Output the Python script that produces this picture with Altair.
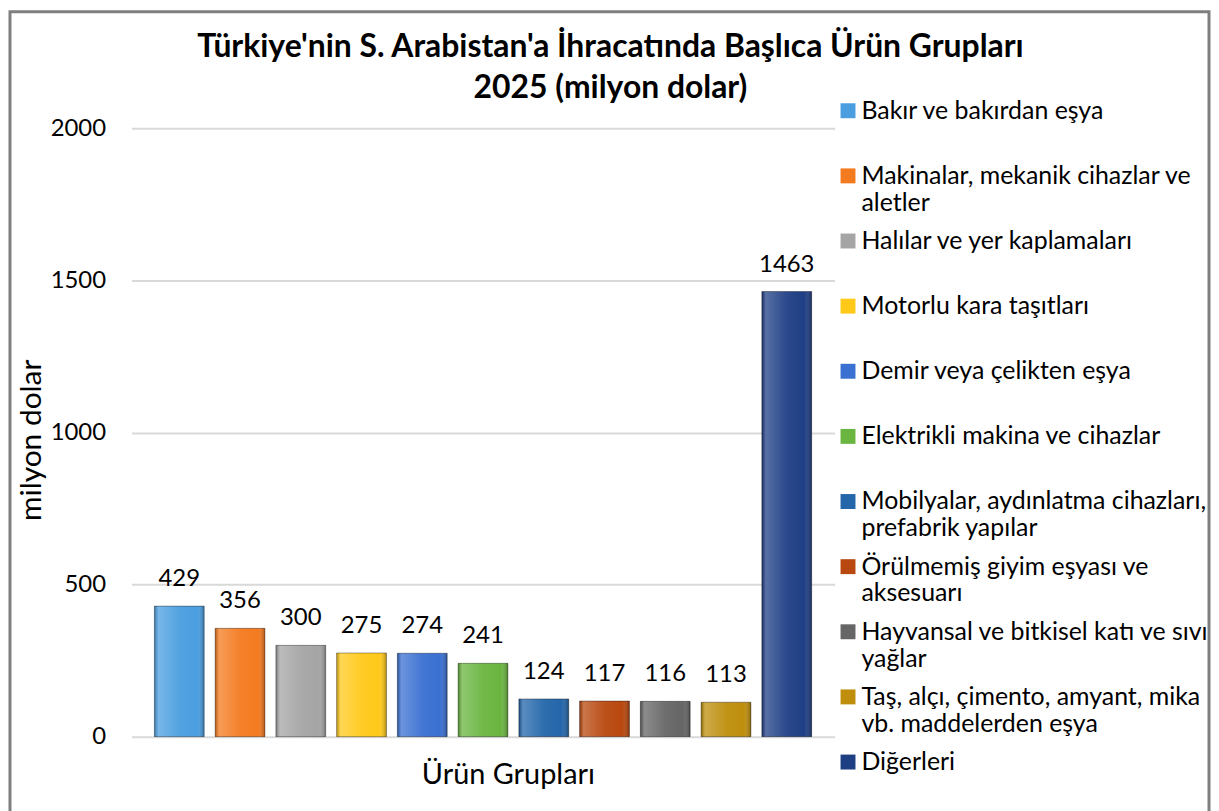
import json
import altair as alt
import pandas as pd

categories = [
    "Bakır ve bakırdan eşya",
    "Makinalar, mekanik cihazlar ve aletler",
    "Halılar ve yer kaplamaları",
    "Motorlu kara taşıtları",
    "Demir veya çelikten eşya",
    "Elektrikli makina ve cihazlar",
    "Mobilyalar, aydınlatma cihazları, prefabrik yapılar",
    "Örülmemiş giyim eşyası ve aksesuarı",
    "Hayvansal ve bitkisel katı ve sıvı yağlar",
    "Taş, alçı, çimento, amyant, mika vb. maddelerden eşya",
    "Diğerleri",
]
values = [429, 356, 300, 275, 274, 241, 124, 117, 116, 113, 1463]
legend_lines = [
    ["Bakır ve bakırdan eşya", " "],
    ["Makinalar, mekanik cihazlar ve", "aletler"],
    ["Halılar ve yer kaplamaları", " "],
    ["Motorlu kara taşıtları", " "],
    ["Demir veya çelikten eşya", " "],
    ["Elektrikli makina ve cihazlar", " "],
    ["Mobilyalar, aydınlatma cihazları,", "prefabrik yapılar"],
    ["Örülmemiş giyim eşyası ve", "aksesuarı"],
    ["Hayvansal ve bitkisel katı ve sıvı", "yağlar"],
    ["Taş, alçı, çimento, amyant, mika", "vb. maddelerden eşya"],
    ["Diğerleri", " "],
]
colors = [
    "#4A9EE0", "#F47A1F", "#A5A5A5", "#FFC91A", "#3A70D2", "#6AB540",
    "#2366AA", "#B8480F", "#666666", "#BE8E0C", "#1F3F85",
]
y_ticks = [0, 500, 1000, 1500, 2000]
title_lines = [
    "Türkiye'nin S. Arabistan'a İhracatında Başlıca Ürün Grupları",
    "2025 (milyon dolar)",
]

df = pd.DataFrame({"cat": categories, "val": values})
FONT = "Lato"

label_map = json.dumps(dict(zip(categories, legend_lines)), ensure_ascii=False)

x_enc = alt.X(
    "cat:N",
    sort=categories,
    scale=alt.Scale(paddingInner=0.18, paddingOuter=0.377),
    axis=alt.Axis(
        labels=False, ticks=False, domain=False, grid=False,
        title="Ürün Grupları", titleFont=FONT, titleFontSize=29,
        titleFontWeight="normal", titleColor="black",
        titleX=378, titleY=38, titleBaseline="middle", titleAlign="center",
    ),
)
y_enc = alt.Y(
    "val:Q",
    scale=alt.Scale(domain=[0, 2000], nice=False),
    axis=alt.Axis(
        values=y_ticks, format="d", grid=True, gridColor="#d9d9d9", gridWidth=2,
        domain=False, ticks=False, labelPadding=26, labelFont=FONT,
        labelFontSize=24, labelColor="black",
        title="milyon dolar", titleFont=FONT, titleFontSize=30,
        titleFontWeight="normal", titleColor="black",
        titleX=-100, titleY=313, titleAngle=270, titleBaseline="middle",
        titleAlign="center",
    ),
)

bars = alt.Chart(df).mark_bar().encode(
    x=x_enc,
    y=y_enc,
    color=alt.Color(
        "cat:N",
        sort=categories,
        scale=alt.Scale(domain=categories, range=colors),
        legend=alt.Legend(
            title=None, orient="none", legendX=707, legendY=-30,
            direction="vertical", padding=0,
            symbolType="square", symbolSize=225,
            symbolStrokeWidth=0, symbolOffset=0,
            labelFont=FONT, labelFontSize=25, labelColor="black",
            labelLimit=400, labelOffset=1, rowPadding=12.4,
            labelExpr=label_map + "[datum.label]",
            labelBaseline="middle",
        ),
    ),
)

bevel = alt.Gradient(
    gradient="linear", x1=0, x2=1, y1=0, y2=0,
    stops=[
        alt.GradientStop(color="rgba(0,0,0,0.25)", offset=0),
        alt.GradientStop(color="rgba(255,255,255,0.25)", offset=0.08),
        alt.GradientStop(color="rgba(255,255,255,0.05)", offset=0.5),
        alt.GradientStop(color="rgba(255,255,255,0.0)", offset=0.85),
        alt.GradientStop(color="rgba(0,0,0,0.3)", offset=1),
    ],
)
overlay = alt.Chart(df).mark_bar(
    fill=bevel, stroke="rgba(0,0,0,0.35)", strokeWidth=1
).encode(x=alt.X("cat:N", sort=categories), y="val:Q")

labels = alt.Chart(df).mark_text(
    dy=-27, font=FONT, fontSize=24, color="black", baseline="middle"
).encode(x=alt.X("cat:N", sort=categories), y="val:Q", text="val:Q")

frame = alt.Chart(pd.DataFrame({"a": [0]})).mark_rect(
    fill=None, stroke="#7f7f7f", strokeWidth=3
).encode(
    x=alt.value(-122), x2=alt.value(1082),
    y=alt.value(-117), y2=alt.value(700),
)

chart = alt.layer(bars, overlay, labels, frame).properties(
    width=706,
    height=611,
    autosize="none",
    padding={"left": 124, "top": 119, "right": 378, "bottom": 73},
    title=alt.TitleParams(
        text=title_lines, font=FONT, fontSize=32, fontWeight="bold",
        color="black", anchor="middle", dx=128, dy=115, offset=20,
        lineHeight=41,
    ),
).configure_view(stroke=None)

chart.save("out.html", embed_options={"renderer": "svg", "actions": False})
